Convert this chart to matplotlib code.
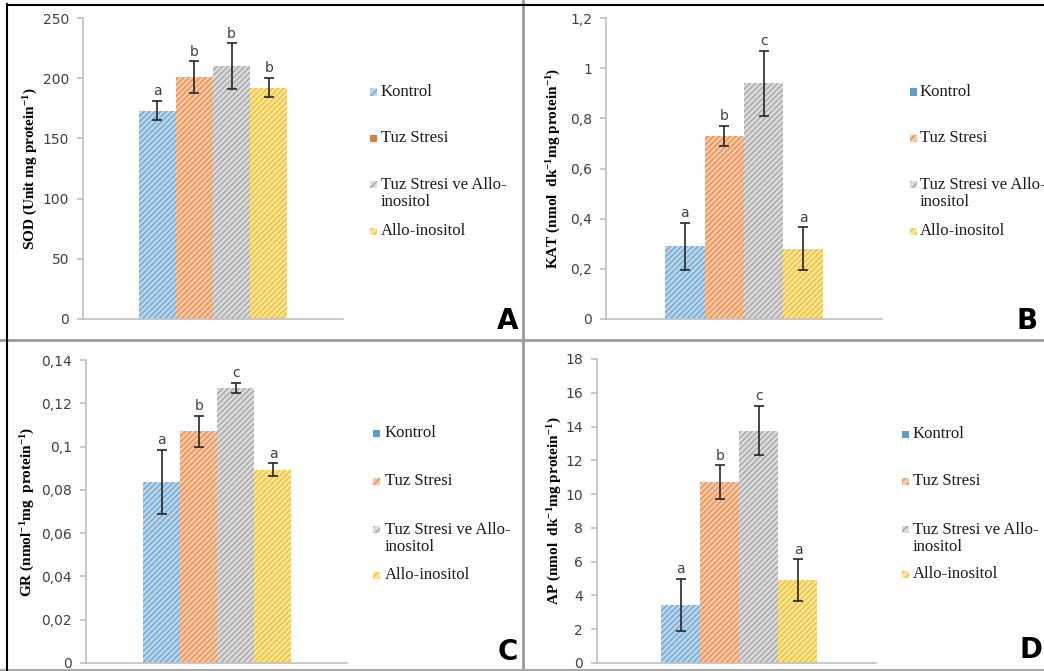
import matplotlib
matplotlib.use('Agg')
import matplotlib.pyplot as plt
from matplotlib.patches import Rectangle
from matplotlib.lines import Line2D
from matplotlib.ticker import FuncFormatter

W, H = 1044, 671

plt.rcParams['mathtext.fontset'] = 'custom'
plt.rcParams['mathtext.rm'] = 'Liberation Serif:bold'
plt.rcParams['mathtext.it'] = 'Liberation Serif:italic:bold'
plt.rcParams['mathtext.bf'] = 'Liberation Serif:bold'
plt.rcParams['hatch.linewidth'] = 1.1

# groups and measured values
groups = ['Kontrol', 'Tuz Stresi', 'Tuz Stresi ve Allo-\ninositol', 'Allo-inositol']

sod = [173, 201, 210, 192]
sod_err = [8, 13, 19, 8]
sod_let = ['a', 'b', 'b', 'b']

kat = [0.29, 0.73, 0.94, 0.28]
kat_err = [0.093, 0.04, 0.13, 0.085]
kat_let = ['a', 'b', 'c', 'a']

gr = [0.0837, 0.107, 0.127, 0.0894]
gr_err = [0.0148, 0.007, 0.0024, 0.0028]
gr_let = ['a', 'b', 'c', 'a']

ap = [3.43, 10.7, 13.76, 4.91]
ap_err = [1.55, 1.0, 1.47, 1.23]
ap_let = ['a', 'b', 'c', 'a']

face = ['#BCD7EC', '#F8C9A4', '#DDDDDD', '#FCE49A']
hatchc = ['#74A9D2', '#E8935A', '#A9A9A9', '#EEC23A']
solid = ['#5E9CCB', '#E07B3C', '#A5A5A5', '#F0C030']


def px(x0, y0, x1, y1):
    return [x0 / W, 1 - y1 / H, (x1 - x0) / W, (y1 - y0) / H]


def comma(v, pos):
    return ('%g' % v).replace('.', ',')


fig = plt.figure(figsize=(W / 100, H / 100), dpi=100)

panels = [
    # values, errors, letters, ymax, step, ylabel, axes box, xlim, label x, legend, solid marker, corner
    (sod, sod_err, sod_let, 250, 50, 'SOD (Unit mg protein$^{-1}$)',
     (83, 18, 343, 319), (-2.0, 5.0), 31, (370, 381, [92, 138, 184, 231]), 1, (518, 329, 'A')),
    (kat, kat_err, kat_let, 1.2, 0.2, 'KAT (nmol  dk$^{-1}$mg protein$^{-1}$)',
     (606, 18, 882, 319), (-2.0, 5.0), 554, (910, 920, [92, 138, 184, 231]), 0, (1038, 329, 'B')),
    (gr, gr_err, gr_let, 0.14, 0.02, 'GR (nmol$^{-1}$mg  protein$^{-1}$)',
     (86, 360, 347, 663), (-2.05, 5.0), 28, (373, 385, [433, 481, 529, 575]), 0, (518, 660, 'C')),
    (ap, ap_err, ap_let, 18, 2, 'AP (nmol  dk$^{-1}$mg protein$^{-1}$)',
     (597, 359, 876, 663), (-2.15, 5.0), 555, (902, 913, [434, 481, 529, 574]), 0, (1042, 658, 'D')),
]

for vals, errs, lets, ymax, step, ylab, box, xl, labx, leg, solid_i, corner in panels:
    ax = fig.add_axes(px(*box))
    x = list(range(len(vals)))
    for i in x:
        ax.bar(i, vals[i], width=1.0, color=face[i], edgecolor=hatchc[i],
               hatch='//////', linewidth=0)
    ax.errorbar(x, vals, yerr=errs, fmt='none', ecolor='#262626',
                elinewidth=1.2, capsize=3.5, capthick=1.2)
    for i in x:
        ax.annotate(lets[i], (i, vals[i] + errs[i]), xytext=(0, 2),
                    textcoords='offset points', ha='center', va='bottom',
                    fontsize=10, color='#404040')
    ax.set_xlim(*xl)
    ax.set_ylim(0, ymax)
    n = int(round(ymax / step))
    ax.set_yticks([k * step for k in range(n + 1)])
    ax.yaxis.set_major_formatter(FuncFormatter(comma))
    ax.set_xticks([])
    for s in ['top', 'right']:
        ax.spines[s].set_visible(False)
    for s in ['left', 'bottom']:
        ax.spines[s].set_color('#BFBFBF')
        ax.spines[s].set_linewidth(1.2)
    ax.tick_params(axis='y', length=4, color='#BFBFBF', width=1.2,
                   labelsize=10, labelcolor='#404040', pad=6)
    ax.patch.set_alpha(0)

    fig.text(labx / W, 1 - (box[1] + box[3]) / 2 / H, ylab, rotation=90,
             ha='center', va='center', fontsize=11,
             family='Liberation Serif', weight='bold')

    mx, tx, rows = leg
    for i, g in enumerate(groups):
        yc = rows[i]
        if i == solid_i:
            r = Rectangle((mx / W, 1 - (yc + 3.5) / H), 7 / W, 7 / H,
                          transform=fig.transFigure, facecolor=solid[i],
                          linewidth=0)
        else:
            r = Rectangle((mx / W, 1 - (yc + 3.5) / H), 7 / W, 7 / H,
                          transform=fig.transFigure, facecolor=face[i],
                          edgecolor=hatchc[i], hatch='////', linewidth=0)
        fig.patches.append(r)
        ty = yc + 9.5 if '\n' in g else yc
        fig.text(tx / W, 1 - ty / H, g, ha='left', va='center',
                 fontsize=12, family='Liberation Serif', linespacing=1.15,
                 color='#1a1a1a')

    cx, cy, cl = corner
    fig.text(cx / W, 1 - cy / H, cl, ha='right', va='baseline',
             fontsize=20, weight='bold', family='DejaVu Sans')

# panel frame lines
fig.add_artist(Line2D([523 / W, 523 / W], [0, 1], color='#9A9A9A', lw=2,
                      transform=fig.transFigure))
fig.add_artist(Line2D([0, 1], [1 - 340 / H, 1 - 340 / H], color='#9A9A9A', lw=2,
                      transform=fig.transFigure))
fig.add_artist(Line2D([0, 1], [1 - 669.5 / H, 1 - 669.5 / H], color='#AAAAAA', lw=1.5,
                      transform=fig.transFigure))
fig.add_artist(Line2D([6.5 / W, 6.5 / W], [0, 1 - 4 / H], color='black', lw=1.5,
                      transform=fig.transFigure))
fig.add_artist(Line2D([6.5 / W, 1], [1 - 4.5 / H, 1 - 4.5 / H], color='black', lw=1.5,
                      transform=fig.transFigure))

fig.savefig('out.png', dpi=100)
